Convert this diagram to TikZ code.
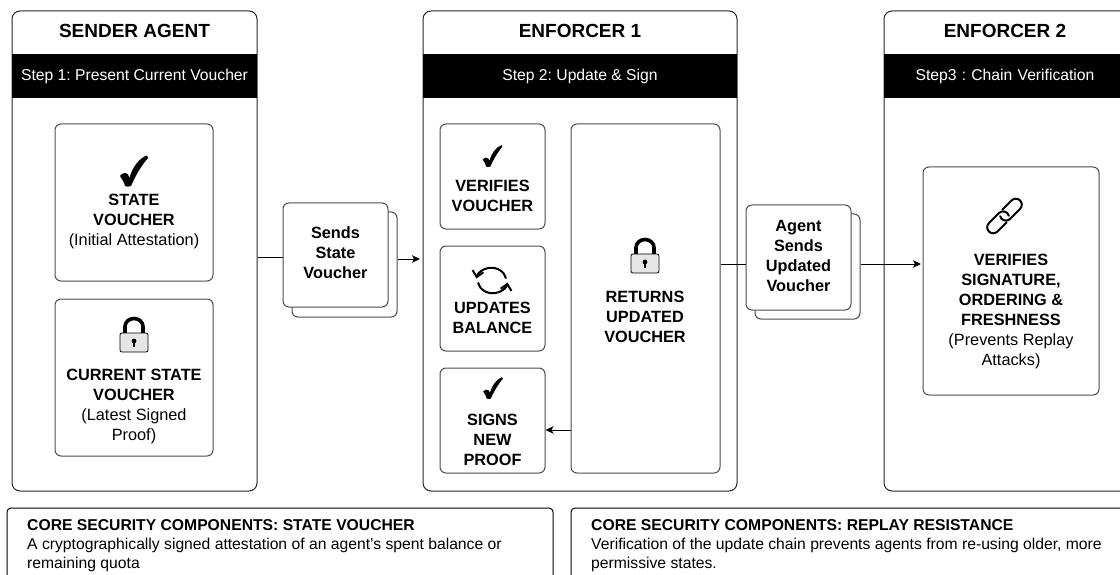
\documentclass[tikz,border=0pt]{standalone}
\usepackage{fontspec}
\setmainfont{Liberation Sans}
\usetikzlibrary{arrows.meta}
\tikzset{
panel/.style={draw=black!85,rounded corners=8pt,line width=1pt,inner sep=0pt},
card/.style={draw=black!70,fill=white,rounded corners=6pt,line width=1pt,inner sep=0pt},
band/.style={fill=black,text=white,inner sep=0pt,font=\fontsize{15.7}{18}\selectfont},
paneltitle/.style={font=\fontsize{19}{22}\selectfont\bfseries},
cardtext/.style={align=center,font=\fontsize{16.3}{20}\selectfont,inner sep=0pt},
notetext/.style={align=left,anchor=north west,inner sep=0pt,font=\fontsize{15.7}{19}\selectfont},
link/.style={line width=1pt,-{Stealth[length=8pt,width=7.5pt,inset=2pt]}},
plain/.style={line width=1pt},
checkicon/.pic={
  \fill (-14,5) .. controls (-12,2) and (-8,1) .. (-6,3.5) -- (-4.5,7) .. controls (-2,-3) and (5,-13) .. (13,-15.5) -- (14,-13) .. controls (6,-4) and (0,8) .. (-3,15) .. controls (-5,16) and (-8,16) .. (-9,15) .. controls (-10,11) and (-12,8) .. (-14,5) -- cycle;
},
lockicon/.pic={
  \draw[line width=3.6pt] (-9,18) -- (-9,9.5) arc (180:360:9 and 8) -- (9,18);
  \draw[fill=black!10,line width=.8pt,rounded corners=2pt] (-14,16) rectangle (14,35);
  \fill (0,24) circle (2.4);
  \fill (-1,24) rectangle (1,30);
},
synicon/.pic={
  \draw[line width=2pt,-{Straight Barb[length=6pt,width=11pt]}] (14,-2) arc (-10:-170:15 and 13);
  \draw[line width=2pt,-{Straight Barb[length=6pt,width=11pt]}] (-14,2) arc (170:10:15 and 13);
},
chainicon/.pic={
  \begin{scope}[rotate=45,line width=2pt,line cap=round]
  \draw (-3,6) -- (-16,6) arc (90:270:6) -- (-2,-6) arc (-90:30:6);
  \draw (3,-6) -- (16,-6) arc (-90:90:6) -- (2,6) arc (90:210:6);
  \end{scope}
}
}
\begin{document}
\frenchspacing
\begin{tikzpicture}[x=1pt,y=-1pt]
\path[use as bounding box,clip] (0,0) rectangle (1120,575);
% three columns
\node[panel,minimum width=245pt,minimum height=480pt] (sender) at (134.5,251) {};
\node[panel,minimum width=314pt,minimum height=480pt] (enforcerone) at (580,251) {};
\node[panel,minimum width=250pt,minimum height=480pt] (enforcertwo) at (1009,251) {};
\node[paneltitle] (sendertitle) at (134.5,31) {SENDER AGENT};
\node[paneltitle] (enforceronetitle) at (580,31) {ENFORCER 1};
\node[paneltitle] (enforcertwotitle) at (1005,31) {ENFORCER 2};
\node[band,minimum width=245pt,minimum height=44pt] (senderband) at (134.5,76) {Step 1: Present Current Voucher};
\node[band,minimum width=314pt,minimum height=44pt] (enforceroneband) at (580,76) {Step 2: Update \& Sign};
\node[band,minimum width=250pt,minimum height=44pt,text width=242pt,align=center] (enforcertwoband) at (1009,76) {\hspace*{-8pt}Step3 : Chain Verification};
% sender cards
\node[card,minimum width=158pt,minimum height=157pt] (statecard) at (134,202.5) {};
\node[card,minimum width=158pt,minimum height=157pt] (currentcard) at (134,377.5) {};
\pic at (134,171) {checkicon};
\pic at (134,317) {lockicon};
\node[cardtext] (statetext) at (134,221) {\textbf{STATE}\\\textbf{VOUCHER}\\(Initial Attestation)};
\node[cardtext] (currenttext) at (134,406) {\textbf{CURRENT STATE}\\\textbf{VOUCHER}\\(Latest Signed\\Proof)};
% stacked message cards
\node[card,minimum width=105pt,minimum height=105pt] (sendsback) at (344.5,264.5) {};
\node[card,minimum width=105pt,minimum height=104pt] (sendsfront) at (335.5,255) {};
\node[cardtext] (sendstext) at (335.5,253) {\textbf{Sends}\\\textbf{State}\\\textbf{Voucher}};
\node[card,minimum width=105pt,minimum height=105pt] (agentback) at (807.5,266.5) {};
\node[card,minimum width=105pt,minimum height=105pt] (agentfront) at (798.5,257.5) {};
\node[cardtext] (agenttext) at (798.5,256) {\textbf{Agent}\\\textbf{Sends}\\\textbf{Updated}\\\textbf{Voucher}};
% enforcer 1 cards
\node[card,minimum width=105pt,minimum height=105pt] (verifycard) at (492.5,176.5) {};
\node[card,minimum width=105pt,minimum height=105pt] (updatecard) at (492.5,298.5) {};
\node[card,minimum width=105pt,minimum height=105pt] (signcard) at (492.5,420.5) {};
\node[card,minimum width=149pt,minimum height=349pt] (returncard) at (645.5,298.5) {};
\pic[scale=.7] at (492.5,156) {checkicon};
\pic at (492,280.5) {synicon};
\pic[scale=.7] at (493,388) {checkicon};
\pic at (645,238) {lockicon};
\node[cardtext] (verifytext) at (492.5,196) {\textbf{VERIFIES}\\\textbf{VOUCHER}};
\node[cardtext] (updatetext) at (492.5,318) {\textbf{UPDATES}\\\textbf{BALANCE}};
\node[cardtext] (signtext) at (492.5,439.5) {\textbf{SIGNS}\\\textbf{NEW}\\\textbf{PROOF}};
\node[cardtext] (returntext) at (645,317) {\textbf{RETURNS}\\\textbf{UPDATED}\\\textbf{VOUCHER}};
% enforcer 2 card
\node[card,minimum width=176pt,minimum height=228pt] (chaincard) at (1011,281) {};
\pic at (1004.5,216) {chainicon};
\node[cardtext] (chaintext) at (1011,311) {\textbf{VERIFIES}\\\textbf{SIGNATURE,}\\\textbf{ORDERING \&}\\\textbf{FRESHNESS}\\(Prevents Replay\\Attacks)};
% connectors
\coordinate (sendstip) at (420,259);
\coordinate (agenttip) at (921,264);
\draw[plain] ([yshift=-6pt]sender.east) -- ([yshift=-2pt]sendsfront.west);
\draw[link] (sendsback.east |- sendstip) -- (sendstip);
\draw[plain] (returncard.east |- agenttip) -- (agentfront.west |- agenttip);
\draw[link] (agentback.east |- agenttip) -- (agenttip);
\draw[link] ([yshift=-131.5pt]returncard.west) -- ([yshift=-9.5pt]signcard.east);
% notes
\node[panel,draw=black,rounded corners=4pt,minimum width=546pt,minimum height=120pt] (statenote) at (280,568) {};
\node[panel,draw=black,rounded corners=4pt,minimum width=560pt,minimum height=120pt] (replaynote) at (851,568) {};
\node[notetext] (statenotetext) at (27,519.5) {\textbf{CORE SECURITY COMPONENTS: STATE VOUCHER}\\A cryptographically signed attestation of an agent's spent balance or\\remaining quota};
\node[notetext] (replaynotetext) at (591,519.5) {\textbf{CORE SECURITY COMPONENTS: REPLAY RESISTANCE}\\Verification of the update chain prevents agents from re-using older, more\\permissive states.};
\end{tikzpicture}
\end{document}
